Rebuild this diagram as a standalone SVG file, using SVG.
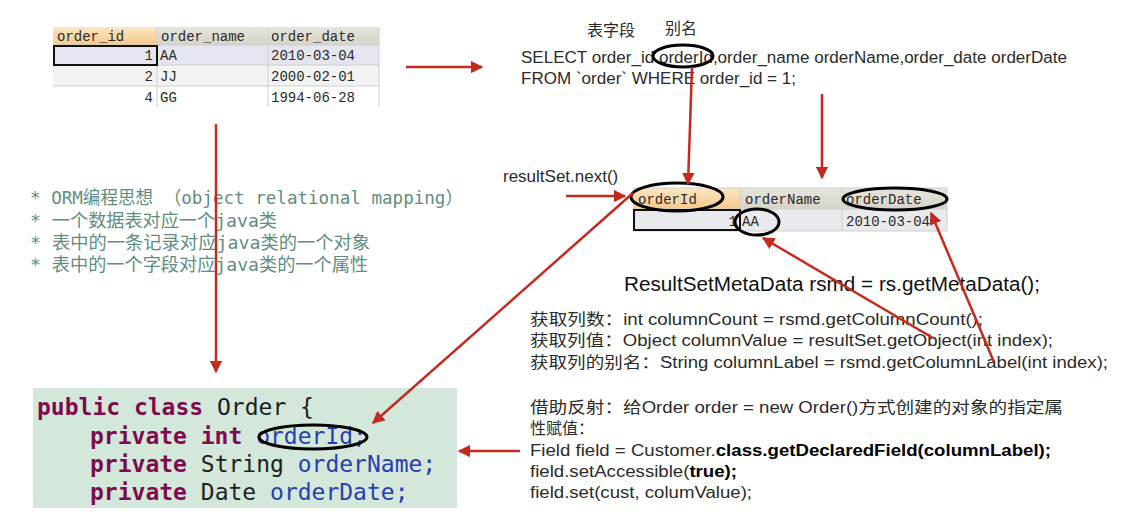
<svg xmlns="http://www.w3.org/2000/svg" width="1131" height="518" viewBox="0 0 1131 518">
<defs>
<linearGradient id="hdrOrange" x1="0" y1="0" x2="0" y2="1"><stop offset="0" stop-color="#fbe6c2"/><stop offset="1" stop-color="#f5c98c"/></linearGradient>
<linearGradient id="hdrGrey" x1="0" y1="0" x2="0" y2="1"><stop offset="0" stop-color="#e6e4dc"/><stop offset="1" stop-color="#d6d3c8"/></linearGradient>
<marker id="ah" viewBox="0 0 10 10" refX="9" refY="5" markerWidth="5" markerHeight="5" orient="auto" markerUnits="strokeWidth"><path d="M0,0 L10,5 L0,10 z" fill="#c42a1f"/></marker>
<style>
.tbl{font-family:"Liberation Mono","DejaVu Sans Mono",monospace;font-size:14px;fill:#2a2a2a}
.grid{stroke:#cfcfcf;stroke-width:1;fill:none}
.sel{fill:none;stroke:#111;stroke-width:2}
.ell{fill:none;stroke:#000;stroke-width:3}
.conn{stroke:#c42a1f;stroke-width:2.5;fill:none;marker-end:url(#ah)}
.sans{font-family:"Liberation Sans","Noto Sans CJK SC",sans-serif;fill:#2b2b2b}
.note{font-family:"DejaVu Sans Mono","Noto Sans CJK SC",monospace;font-size:18px;fill:#5f8d80}
.code{font-family:"DejaVu Sans Mono","Liberation Mono",monospace;font-size:23px}
.kw{fill:#7f0b4f;font-weight:bold}
.ty{fill:#1e1e1e}
.fd{fill:#2a3db0}
</style>
</defs>

<g id="table-order">
<rect x="53" y="27" width="104" height="18" fill="url(#hdrOrange)"/>
<rect x="157" y="27" width="111" height="18" fill="url(#hdrGrey)"/>
<rect x="268" y="27" width="111" height="18" fill="url(#hdrGrey)"/>
<rect x="53" y="45" width="326" height="20" fill="#e5e5f0"/>
<rect x="53" y="65" width="326" height="21" fill="#f3f3f3"/>
<rect x="53" y="86" width="326" height="21" fill="#ffffff"/>
<path class="grid" d="M157,27 V107 M268,27 V107 M379,27 V107 M53,45 H379 M53,65 H379 M53,86 H379"/>
<rect class="sel" x="54" y="46" width="103" height="19"/>
<text class="tbl" x="57" y="41">order_id</text>
<text class="tbl" x="161" y="41">order_name</text>
<text class="tbl" x="271" y="41">order_date</text>
<text class="tbl" x="153" y="60" text-anchor="end">1</text>
<text class="tbl" x="160" y="60">AA</text>
<text class="tbl" x="271" y="60">2010-03-04</text>
<text class="tbl" x="153" y="81" text-anchor="end">2</text>
<text class="tbl" x="160" y="81">JJ</text>
<text class="tbl" x="271" y="81">2000-02-01</text>
<text class="tbl" x="153" y="102" text-anchor="end">4</text>
<text class="tbl" x="160" y="102">GG</text>
<text class="tbl" x="271" y="102">1994-06-28</text>
</g>

<g id="sql">
<text class="sans" x="587" y="36" font-size="16">表字段</text>
<text class="sans" x="665" y="34" font-size="16">别名</text>
<text class="sans" x="521" y="63" font-size="16" textLength="546" lengthAdjust="spacingAndGlyphs">SELECT order_id orderId,order_name orderName,order_date orderDate</text>
<text class="sans" x="521" y="84" font-size="16" textLength="275" lengthAdjust="spacingAndGlyphs">FROM `order` WHERE order_id = 1;</text>
<ellipse class="ell" cx="683" cy="56" rx="30" ry="11"/>
</g>

<g id="notes">
<text class="note" x="30" y="204" textLength="433" lengthAdjust="spacingAndGlyphs">* ORM编程思想  （object relational mapping）</text>
<text class="note" x="30" y="227" textLength="247" lengthAdjust="spacingAndGlyphs">* 一个数据表对应一个java类</text>
<text class="note" x="30" y="249" textLength="340" lengthAdjust="spacingAndGlyphs">* 表中的一条记录对应java类的一个对象</text>
<text class="note" x="30" y="271" textLength="338" lengthAdjust="spacingAndGlyphs">* 表中的一个字段对应java类的一个属性</text>
</g>

<g id="resultset-next">
<text class="sans" x="503" y="182" font-size="17">resultSet.next()</text>
</g>

<g id="table-result">
<rect x="633" y="188" width="107" height="21" fill="url(#hdrOrange)"/>
<rect x="740" y="188" width="102" height="21" fill="url(#hdrGrey)"/>
<rect x="842" y="188" width="105" height="21" fill="url(#hdrGrey)"/>
<rect x="633" y="209" width="314" height="22" fill="#e9e9ee"/>
<path class="grid" d="M633,188 H947 M740,188 V231 M842,188 V231 M947,188 V231 M633,209 H947 M633,231 H947"/>
<rect class="sel" x="634" y="210" width="106" height="20"/>
<text class="tbl" x="638" y="204">orderId</text>
<text class="tbl" x="745" y="204">orderName</text>
<text class="tbl" x="846" y="204">orderDate</text>
<text class="tbl" x="737" y="226" text-anchor="end">1</text>
<text class="tbl" x="742" y="226">AA</text>
<text class="tbl" x="846" y="226">2010-03-04</text>
<ellipse class="ell" cx="677" cy="197" rx="46" ry="14"/>
<ellipse class="ell" cx="895" cy="199" rx="52" ry="11"/>
<ellipse class="ell" cx="757" cy="222" rx="22" ry="13"/>
</g>

<g id="metadata">
<text class="sans" x="624" y="291" font-size="20" style="fill:#111" textLength="416" lengthAdjust="spacingAndGlyphs">ResultSetMetaData rsmd = rs.getMetaData();</text>
<text class="sans" x="530" y="325" font-size="16" textLength="453" lengthAdjust="spacingAndGlyphs">获取列数：int columnCount = rsmd.getColumnCount();</text>
<text class="sans" x="530" y="346" font-size="16" textLength="523" lengthAdjust="spacingAndGlyphs">获取列值：Object columnValue = resultSet.getObject(int index);</text>
<text class="sans" x="530" y="368" font-size="16" textLength="578" lengthAdjust="spacingAndGlyphs">获取列的别名：String columnLabel = rsmd.getColumnLabel(int index);</text>
</g>

<g id="reflection">
<text class="sans" x="530" y="413" font-size="16" textLength="533" lengthAdjust="spacingAndGlyphs">借助反射：给Order order = new Order()方式创建的对象的指定属</text>
<text class="sans" x="530" y="434" font-size="16">性赋值：</text>
<text class="sans" x="530" y="456" font-size="16" textLength="521" lengthAdjust="spacingAndGlyphs">Field field = Customer.<tspan font-weight="bold" fill="#000">class.getDeclaredField(columnLabel);</tspan></text>
<text class="sans" x="530" y="477" font-size="16" textLength="207" lengthAdjust="spacingAndGlyphs">field.setAccessible(<tspan font-weight="bold" fill="#000">true);</tspan></text>
<text class="sans" x="530" y="498" font-size="16" textLength="222" lengthAdjust="spacingAndGlyphs">field.set(cust, columValue);</text>
</g>

<g id="class-order">
<rect x="33" y="388" width="424" height="120" fill="#d3e8da"/>
<text class="code" x="37" y="415"><tspan class="kw">public class</tspan><tspan class="ty"> Order {</tspan></text>
<text class="code" x="90" y="444"><tspan class="kw">private int</tspan><tspan class="fd"> orderId;</tspan></text>
<text class="code" x="90" y="472"><tspan class="kw">private</tspan><tspan class="ty"> String</tspan><tspan class="fd"> orderName;</tspan></text>
<text class="code" x="90" y="500"><tspan class="kw">private</tspan><tspan class="ty"> Date</tspan><tspan class="fd"> orderDate;</tspan></text>
<ellipse class="ell" cx="313" cy="437" rx="54" ry="12"/>
</g>

<g id="connectors">
<line class="conn" x1="406" y1="67" x2="482" y2="67"/>
<line class="conn" x1="216" y1="124" x2="216" y2="372"/>
<line class="conn" x1="692" y1="67" x2="688" y2="184"/>
<line class="conn" x1="822" y1="94" x2="822" y2="178"/>
<line class="conn" x1="566" y1="196" x2="625" y2="196"/>
<line class="conn" x1="633" y1="193" x2="373" y2="423"/>
<line class="conn" x1="933" y1="338" x2="763" y2="238"/>
<line class="conn" x1="994" y1="362" x2="931" y2="213"/>
<line class="conn" x1="520" y1="451" x2="459" y2="451"/>
</g>
</svg>
